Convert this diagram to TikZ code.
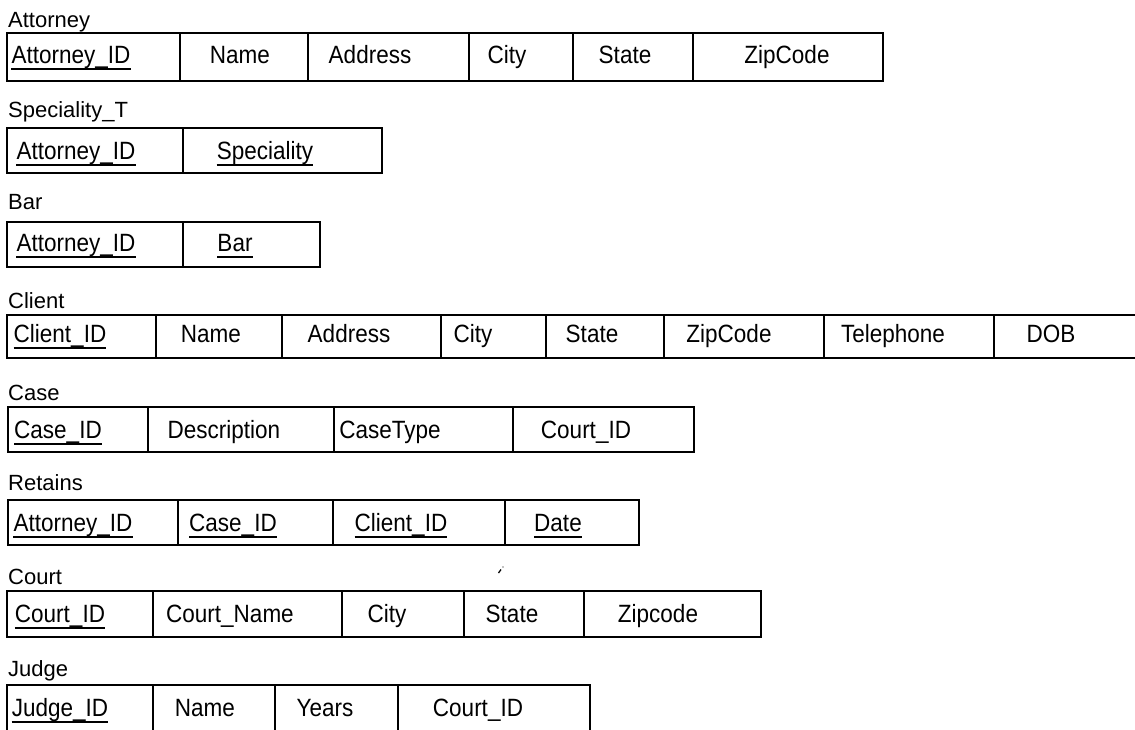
\documentclass[tikz,border=0pt]{standalone}
\usepackage{fontspec}
\setmainfont{Liberation Sans}
\newfontfamily\cellfont[FakeStretch=0.9]{Liberation Sans}
\newfontfamily\labfont{Liberation Sans}
\tikzset{
  lab/.style={anchor=base west, inner sep=0pt, font=\labfont\fontsize{22}{24}\selectfont},
  fld/.style={anchor=base, inner sep=0pt, font=\cellfont\fontsize{25}{27}\selectfont},
  tline/.style={line width=1.6pt, line cap=rect},
  ulline/.style={line width=1.2pt}
}
\newcommand\tbl[5]{\draw[tline] (#3,#1) rectangle (#4,#2);
  \foreach \xx in {#5} {\draw[tline] (\xx,#1) -- (\xx,#2);}}
\newcommand\ulin[1]{\draw[ulline] ([yshift=-6pt]#1.base west) -- ([yshift=-6pt]#1.base east);}
\begin{document}
\begin{tikzpicture}[x=1pt,y=-1pt]
\fill[white] (0,0) rectangle (1135,729);
\useasboundingbox (0,0) rectangle (1135,729);

% Attorney
\node[lab] (lAtt) at (8,27) {Attorney};
\tbl{33}{81}{7}{883}{180,308,469,573,693}
\node[fld] (a1) at (71,63) {Attorney\_ID};
\node[fld] (a2) at (240,63) {Name};
\node[fld] (a3) at (370,63) {Address};
\node[fld] (a4) at (507,63) {City};
\node[fld] (a5) at (625,63) {State};
\node[fld] (a6) at (787,63) {ZipCode};
\ulin{a1}

% Speciality_T
\node[lab] (lSpec) at (8,117) {Speciality\_T};
\tbl{128}{173}{7}{382}{183}
\node[fld] (s1) at (76,159) {Attorney\_ID};
\node[fld] (s2) at (265,159) {Speciality};
\ulin{s1}\ulin{s2}

% Bar
\node[lab] (lBar) at (8,209) {Bar};
\tbl{222}{267}{7}{320}{183}
\node[fld] (b1) at (76,251) {Attorney\_ID};
\node[fld] (b2) at (235,251) {Bar};
\ulin{b1}\ulin{b2}

% Client
\node[lab] (lCli) at (8,308) {Client};
\draw[tline] (7,315) -- (1135,315);
\draw[tline] (7,358) -- (1135,358);
\foreach \xx in {7,156,282,441,546,664,824,994} {\draw[tline] (\xx,315) -- (\xx,358);}
\node[fld] (c1) at (60,342) {Client\_ID};
\node[fld] (c2) at (211,342) {Name};
\node[fld] (c3) at (349,342) {Address};
\node[fld] (c4) at (473,342) {City};
\node[fld] (c5) at (592,342) {State};
\node[fld] (c6) at (729,342) {ZipCode};
\node[fld] (c7) at (893,342) {Telephone};
\node[fld] (c8) at (1051,342) {DOB};
\ulin{c1}

% Case
\node[lab] (lCase) at (8,400) {Case};
\tbl{407}{452}{8}{694}{148,334,513}
\node[fld] (k1) at (58,438) {Case\_ID};
\node[fld] (k2) at (224,438) {Description};
\node[fld] (k3) at (390,438) {CaseType};
\node[fld] (k4) at (586,438) {Court\_ID};
\ulin{k1}

% Retains
\node[lab] (lRet) at (8,490) {Retains};
\tbl{500}{545}{8}{639}{178,333,505}
\node[fld] (r1) at (73,531) {Attorney\_ID};
\node[fld] (r2) at (233,531) {Case\_ID};
\node[fld] (r3) at (401,531) {Client\_ID};
\node[fld] (r4) at (558,531) {Date};
\ulin{r1}\ulin{r2}\ulin{r3}\ulin{r4}

% stray mark
\draw[line width=1.3pt] (498.5,573) -- (501,569.5);
\fill (503,567) circle (0.7);

% Court
\node[lab] (lCourt) at (8,584) {Court};
\tbl{591}{637}{7}{761}{153,342,464,584}
\node[fld] (t1) at (60,622) {Court\_ID};
\node[fld] (t2) at (230,622) {Court\_Name};
\node[fld] (t3) at (387,622) {City};
\node[fld] (t4) at (512,622) {State};
\node[fld] (t5) at (658,622) {Zipcode};
\ulin{t1}

% Judge
\node[lab] (lJudge) at (8,676) {Judge};
\draw[tline] (7,685) -- (590,685);
\foreach \xx in {7,153,275,398,590} {\draw[tline] (\xx,685) -- (\xx,735);}
\node[fld] (j1) at (60,716) {Judge\_ID};
\node[fld] (j2) at (205,716) {Name};
\node[fld] (j3) at (325,716) {Years};
\node[fld] (j4) at (478,716) {Court\_ID};
\ulin{j1}
\end{tikzpicture}
\end{document}
